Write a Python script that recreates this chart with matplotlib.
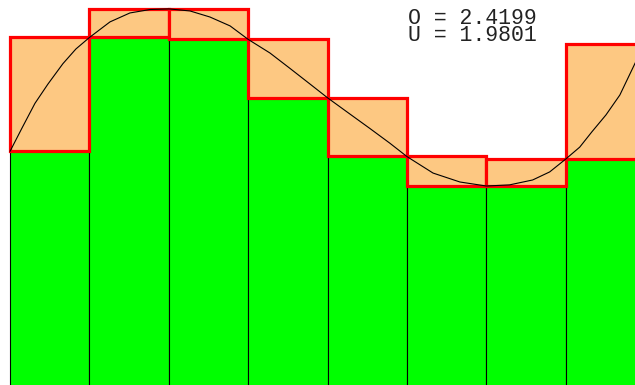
import matplotlib
matplotlib.use("Agg")
import matplotlib.pyplot as plt
from matplotlib.patches import Rectangle

# Partition of [0, 2.2] into 8 equal subintervals
a, b, n = 0.0, 2.2, 8
dx = (b - a) / n

# Supremum / infimum of f on each subinterval
upper_vals = [1.210, 1.309, 1.309, 1.203, 1.000, 0.796, 0.788, 1.185]
lower_vals = [0.815, 1.210, 1.203, 1.000, 0.796, 0.694, 0.694, 0.788]

# Sampled points of the curve f(x)
curve_x = [0.000, 0.041, 0.086, 0.131, 0.183, 0.228, 0.275, 0.346, 0.415,
           0.485, 0.550, 0.623, 0.692, 0.762, 0.825, 0.900, 0.970, 1.039,
           1.100, 1.177, 1.246, 1.315, 1.375, 1.465, 1.558, 1.650, 1.730,
           1.810, 1.869, 1.925, 1.973, 2.015, 2.064, 2.112, 2.165]
curve_y = [0.814, 0.894, 0.980, 1.047, 1.118, 1.169, 1.209, 1.263, 1.294,
           1.306, 1.308, 1.301, 1.280, 1.249, 1.202, 1.155, 1.101, 1.047,
           0.999, 0.943, 0.893, 0.842, 0.795, 0.738, 0.707, 0.693, 0.697,
           0.714, 0.742, 0.787, 0.828, 0.881, 0.940, 1.009, 1.120]

upper_sum = 2.4199
lower_sum = 1.9801

fig = plt.figure(figsize=(6.35, 3.85), dpi=100)
ax = fig.add_axes([0, 0, 1, 1])
ax.set_xlim(-0.035, 2.1645)
ax.set_ylim(0.002, 1.339)
ax.axis("off")

for i in range(n):
    x0 = a + i * dx
    # lower sum rectangle
    ax.add_patch(Rectangle((x0, 0), dx, lower_vals[i], facecolor="#00FF00",
                           edgecolor="black", linewidth=0.8, zorder=1))
for i in range(n):
    x0 = a + i * dx
    # excess of the upper sum over the lower sum
    ax.add_patch(Rectangle((x0, lower_vals[i]), dx, upper_vals[i] - lower_vals[i],
                           facecolor="#FDC882", edgecolor="#FF0000",
                           linewidth=2.3, zorder=2))

ax.plot(curve_x, curve_y, color="black", linewidth=0.8, zorder=3)

label = f"O = {upper_sum:.4f}\nU = {lower_sum:.4f}"
ax.text(408, 385 - 40.7, label, transform=None,
        family=["Liberation Mono", "DejaVu Sans Mono"], fontsize=15.5,
        color="#222222", va="baseline", ha="left", linespacing=0.74)

fig.savefig("out.png", dpi=100)
